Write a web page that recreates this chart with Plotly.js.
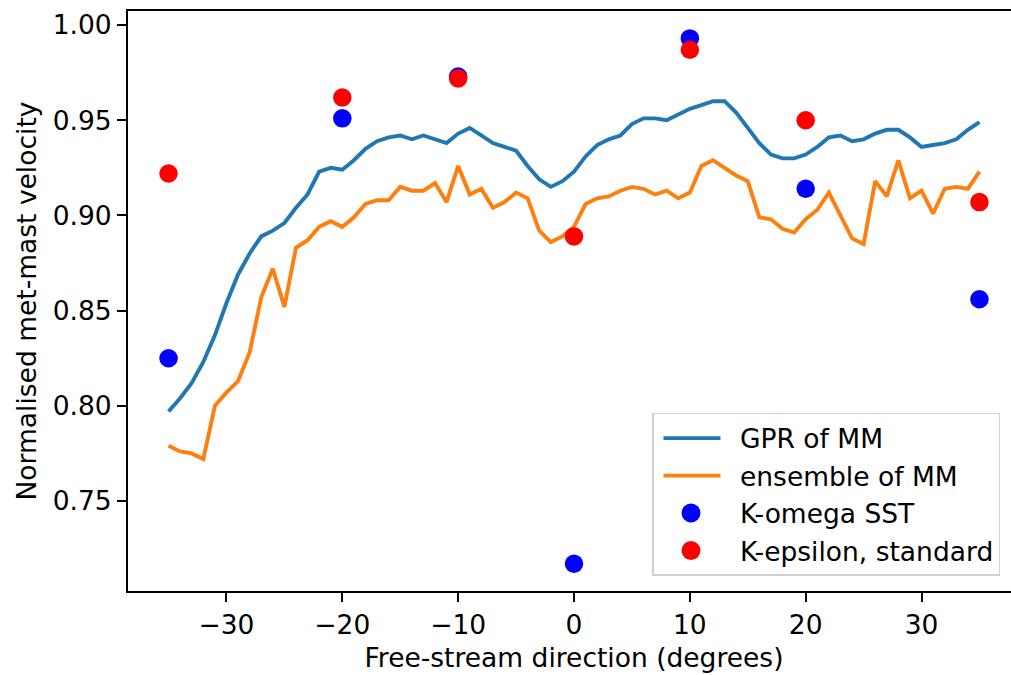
<!DOCTYPE html>
<html>
<head>
<meta charset="utf-8">
<script src="https://cdn.plot.ly/plotly-3.0.1.min.js"></script>
<style>
  html, body { margin: 0; padding: 0; overflow: hidden; background: #fff; }
  #chart { width: 1040px; height: 675px; }
</style>
</head>
<body>
<div id="chart"></div>
<script>
// Free-stream direction, one value per degree
const directions = [];
for (let d = -35; d <= 35; d++) directions.push(d);

// Gaussian-process regression of the met-mast data
const gprOfMM = [
  0.797, 0.804, 0.812, 0.823, 0.837, 0.854, 0.869, 0.880, 0.889, 0.892,
  0.896, 0.904, 0.911, 0.923, 0.925, 0.924, 0.929, 0.935, 0.939, 0.941,
  0.942, 0.940, 0.942, 0.940, 0.938, 0.943, 0.946, 0.942, 0.938, 0.936,
  0.934, 0.926, 0.919, 0.915, 0.918, 0.923, 0.931, 0.937, 0.940, 0.942,
  0.948, 0.951, 0.951, 0.950, 0.953, 0.956, 0.958, 0.960, 0.960, 0.954,
  0.946, 0.938, 0.932, 0.930, 0.930, 0.932, 0.936, 0.941, 0.942, 0.939,
  0.940, 0.943, 0.945, 0.945, 0.941, 0.936, 0.937, 0.938, 0.940, 0.945,
  0.949
];

// Ensemble of the met-mast data
const ensembleOfMM = [
  0.779, 0.776, 0.775, 0.772, 0.800, 0.807, 0.813, 0.828, 0.857, 0.872,
  0.852, 0.883, 0.887, 0.894, 0.897, 0.894, 0.899, 0.906, 0.908, 0.908,
  0.915, 0.913, 0.913, 0.917, 0.907, 0.926, 0.911, 0.914, 0.904, 0.907,
  0.912, 0.909, 0.892, 0.886, 0.889, 0.894, 0.906, 0.909, 0.910, 0.913,
  0.915, 0.914, 0.911, 0.913, 0.909, 0.912, 0.926, 0.929, 0.925, 0.921,
  0.918, 0.899, 0.898, 0.893, 0.891, 0.898, 0.903, 0.912, 0.900, 0.888,
  0.885, 0.918, 0.910, 0.929, 0.909, 0.913, 0.901, 0.914, 0.915, 0.914,
  0.923
];

// CFD simulations at selected directions
const cfdDirections = [-35, -20, -10, 0, 10, 20, 35];
const kOmegaSST = [0.825, 0.951, 0.973, 0.717, 0.993, 0.914, 0.856];
const kEpsilonStandard = [0.922, 0.962, 0.972, 0.889, 0.987, 0.950, 0.907];

const axisFont = { family: 'DejaVu Sans, sans-serif', size: 26.5, color: '#000' };

const traces = [
  {
    x: directions, y: gprOfMM, type: 'scatter', mode: 'lines',
    name: 'GPR of MM', line: { color: '#1f77b4', width: 3.9 }
  },
  {
    x: directions, y: ensembleOfMM, type: 'scatter', mode: 'lines',
    name: 'ensemble of MM', line: { color: '#ff7f0e', width: 3.9 }
  },
  {
    x: cfdDirections, y: kOmegaSST, type: 'scatter', mode: 'markers',
    name: 'K-omega SST', marker: { color: '#0000ff', size: 18.5 }
  },
  {
    x: cfdDirections, y: kEpsilonStandard, type: 'scatter', mode: 'markers',
    name: 'K-epsilon, standard', marker: { color: '#ff0000', size: 18.5 }
  }
];

const layout = {
  width: 1040,
  height: 675,
  margin: { l: 128, r: 19.5, t: 11, b: 84 },
  paper_bgcolor: '#fff',
  plot_bgcolor: '#fff',
  font: axisFont,
  showlegend: true,
  xaxis: {
    range: [-38.5, 38.5],
    tickvals: [-30, -20, -10, 0, 10, 20, 30],
    showgrid: false, zeroline: false,
    showline: true, mirror: true, linecolor: '#000', linewidth: 2,
    ticks: 'outside', ticklen: 9, tickwidth: 2, tickcolor: '#000',
    tickfont: axisFont,
    title: { text: 'Free-stream direction (degrees)', font: axisFont, standoff: 10 }
  },
  yaxis: {
    range: [0.7027, 1.0074],
    tickvals: [0.75, 0.80, 0.85, 0.90, 0.95, 1.00],
    tickformat: '.2f',
    showgrid: false, zeroline: false,
    showline: true, mirror: true, linecolor: '#000', linewidth: 2,
    ticks: 'outside', ticklen: 9, tickwidth: 2, tickcolor: '#000',
    tickfont: axisFont,
    title: { text: 'Normalised met-mast velocity', font: axisFont, standoff: 8 }
  },
  legend: {
    x: 0.588, y: 0.026, xanchor: 'left', yanchor: 'bottom',
    bgcolor: 'rgba(255,255,255,0.8)', bordercolor: '#d0d0d0', borderwidth: 1.5,
    itemwidth: 76,
    entrywidth: 269,
    font: axisFont
  }
};

Plotly.newPlot('chart', traces, layout, { staticPlot: true, displayModeBar: false })
  .then(function (gd) {
    // Longer line samples in the legend key
    gd.querySelectorAll('.legend .legendlines path').forEach(function (p) {
      const m = /M([-\d.]+),([-\d.]+)h([-\d.]+)/.exec(p.getAttribute('d') || '');
      if (!m) return;
      const start = parseFloat(m[1]), len = parseFloat(m[3]);
      const centre = start + len / 2 - 5;
      p.setAttribute('d', 'M' + (centre - 28.5) + ',' + m[2] + 'h57');
    });
    // Legend markers at the same size as the plotted points
    gd.querySelectorAll('.legend .legendpoints path.scatterpts').forEach(function (p) {
      const t = p.getAttribute('transform') || '';
      p.setAttribute('transform', 'translate(-6,0) ' + t + ' scale(1.18)');
    });
  });
</script>
</body>
</html>
